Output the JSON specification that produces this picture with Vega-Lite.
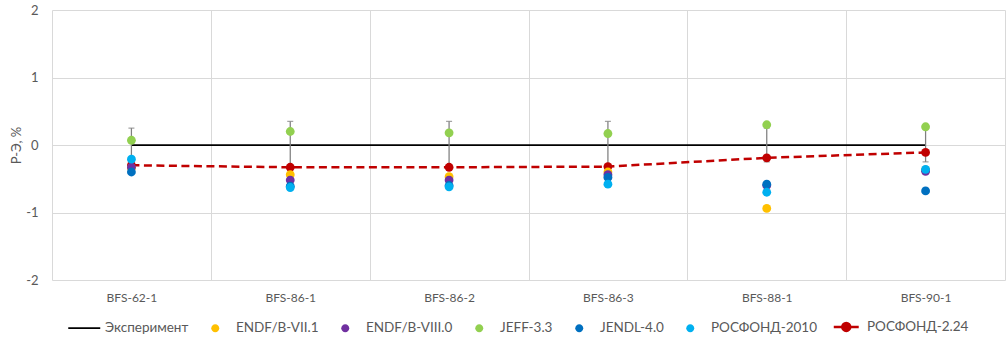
{
  "$schema": "https://vega.github.io/schema/vega-lite/v6.json",
  "width": 953,
  "height": 270,
  "autosize": "none",
  "padding": {"left": 52, "top": 10, "right": 1, "bottom": 62},
  "background": "white",
  "config": {
    "view": {"stroke": null},
    "font": "Lato",
    "axis": {"labelColor": "#595959", "titleColor": "#595959", "gridColor": "#d9d9d9", "gridWidth": 1}
  },
  "datasets": {
    "exp": [
      {"case": "BFS-62-1", "value": 0, "lo": -0.25, "hi": 0.25},
      {"case": "BFS-86-1", "value": 0, "lo": -0.35, "hi": 0.35},
      {"case": "BFS-86-2", "value": 0, "lo": -0.35, "hi": 0.35},
      {"case": "BFS-86-3", "value": 0, "lo": -0.35, "hi": 0.35},
      {"case": "BFS-88-1", "value": 0, "lo": -0.25, "hi": 0.25},
      {"case": "BFS-90-1", "value": 0, "lo": -0.25, "hi": 0.25}
    ],
    "calc": [
      {"case": "BFS-62-1", "lib": "РОСФОНД-2.24", "value": -0.30},
      {"case": "BFS-86-1", "lib": "РОСФОНД-2.24", "value": -0.33},
      {"case": "BFS-86-2", "lib": "РОСФОНД-2.24", "value": -0.33},
      {"case": "BFS-86-3", "lib": "РОСФОНД-2.24", "value": -0.32},
      {"case": "BFS-88-1", "lib": "РОСФОНД-2.24", "value": -0.19},
      {"case": "BFS-90-1", "lib": "РОСФОНД-2.24", "value": -0.11},
      {"case": "BFS-62-1", "lib": "ENDF/B-VII.1", "value": -0.34},
      {"case": "BFS-86-1", "lib": "ENDF/B-VII.1", "value": -0.44},
      {"case": "BFS-86-2", "lib": "ENDF/B-VII.1", "value": -0.47},
      {"case": "BFS-86-3", "lib": "ENDF/B-VII.1", "value": -0.40},
      {"case": "BFS-88-1", "lib": "ENDF/B-VII.1", "value": -0.94},
      {"case": "BFS-90-1", "lib": "ENDF/B-VII.1", "value": -0.37},
      {"case": "BFS-62-1", "lib": "ENDF/B-VIII.0", "value": -0.33},
      {"case": "BFS-86-1", "lib": "ENDF/B-VIII.0", "value": -0.52},
      {"case": "BFS-86-2", "lib": "ENDF/B-VIII.0", "value": -0.52},
      {"case": "BFS-86-3", "lib": "ENDF/B-VIII.0", "value": -0.44},
      {"case": "BFS-88-1", "lib": "ENDF/B-VIII.0", "value": -0.60},
      {"case": "BFS-90-1", "lib": "ENDF/B-VIII.0", "value": -0.39},
      {"case": "BFS-62-1", "lib": "JEFF-3.3", "value": 0.07},
      {"case": "BFS-86-1", "lib": "JEFF-3.3", "value": 0.20},
      {"case": "BFS-86-2", "lib": "JEFF-3.3", "value": 0.18},
      {"case": "BFS-86-3", "lib": "JEFF-3.3", "value": 0.17},
      {"case": "BFS-88-1", "lib": "JEFF-3.3", "value": 0.30},
      {"case": "BFS-90-1", "lib": "JEFF-3.3", "value": 0.27},
      {"case": "BFS-62-1", "lib": "JENDL-4.0", "value": -0.40},
      {"case": "BFS-86-1", "lib": "JENDL-4.0", "value": -0.61},
      {"case": "BFS-86-2", "lib": "JENDL-4.0", "value": -0.60},
      {"case": "BFS-86-3", "lib": "JENDL-4.0", "value": -0.48},
      {"case": "BFS-88-1", "lib": "JENDL-4.0", "value": -0.58},
      {"case": "BFS-90-1", "lib": "JENDL-4.0", "value": -0.68},
      {"case": "BFS-62-1", "lib": "РОСФОНД-2010", "value": -0.21},
      {"case": "BFS-86-1", "lib": "РОСФОНД-2010", "value": -0.63},
      {"case": "BFS-86-2", "lib": "РОСФОНД-2010", "value": -0.62},
      {"case": "BFS-86-3", "lib": "РОСФОНД-2010", "value": -0.58},
      {"case": "BFS-88-1", "lib": "РОСФОНД-2010", "value": -0.70},
      {"case": "BFS-90-1", "lib": "РОСФОНД-2010", "value": -0.36}
    ]
  },
  "layer": [
    {
      "data": {"name": "exp"},
      "mark": {"type": "line", "strokeWidth": 1.75},
      "encoding": {
        "x": {
          "field": "case", "type": "nominal", "title": null,
          "scale": {"type": "band", "paddingInner": 0, "paddingOuter": 0,
                    "domain": ["BFS-62-1", "BFS-86-1", "BFS-86-2", "BFS-86-3", "BFS-88-1", "BFS-90-1"]},
          "axis": {"grid": true, "tickBand": "extent", "ticks": false, "domain": false,
                   "labelPadding": 12, "labelFontSize": 12, "labelAngle": 0}
        },
        "y": {
          "field": "value", "type": "quantitative",
          "scale": {"domain": [-2, 2], "nice": false},
          "axis": {"values": [-2, -1, 0, 1, 2], "labelExpr": "'' + datum.value", "grid": true, "domain": false, "ticks": false,
                   "labelPadding": 14, "labelFontSize": 13, "title": "Р-Э, %",
                   "titleFontSize": 13, "titleFontWeight": "normal", "titlePadding": 2}
        },
        "color": {
          "datum": "Эксперимент",
          "scale": {
            "domain": ["Эксперимент", "ENDF/B-VII.1", "ENDF/B-VIII.0", "JEFF-3.3", "JENDL-4.0", "РОСФОНД-2010", "РОСФОНД-2.24"],
            "range": ["#000000", "#FFC000", "#7030A0", "#92D050", "#0070C0", "#00B0F0", "#C00000"]
          }
        }
      }
    },
    {
      "data": {"name": "exp"},
      "mark": {"type": "rule", "color": "#7f7f7f", "strokeWidth": 1.25},
      "encoding": {
        "x": {"field": "case", "type": "nominal"},
        "y": {"field": "lo", "type": "quantitative"},
        "y2": {"field": "hi"}
      }
    },
    {
      "data": {"name": "exp"},
      "mark": {"type": "tick", "color": "#7f7f7f", "size": 6, "thickness": 1.25, "orient": "horizontal"},
      "encoding": {
        "x": {"field": "case", "type": "nominal"},
        "y": {"field": "hi", "type": "quantitative"}
      }
    },
    {
      "data": {"name": "exp"},
      "mark": {"type": "tick", "color": "#7f7f7f", "size": 6, "thickness": 1.25, "orient": "horizontal"},
      "encoding": {
        "x": {"field": "case", "type": "nominal"},
        "y": {"field": "lo", "type": "quantitative"}
      }
    },
    {
      "data": {"name": "calc"},
      "transform": [{"filter": "datum.lib === 'РОСФОНД-2.24'"}],
      "mark": {"type": "line", "strokeWidth": 2.5, "strokeDash": [8, 4.5]},
      "encoding": {
        "x": {"field": "case", "type": "nominal"},
        "y": {"field": "value", "type": "quantitative"},
        "color": {"field": "lib", "type": "nominal"}
      }
    },
    {
      "data": {"name": "calc"},
      "mark": {"type": "point", "filled": true, "opacity": 1, "size": 78, "shape": "circle"},
      "encoding": {
        "x": {"field": "case", "type": "nominal"},
        "y": {"field": "value", "type": "quantitative"},
        "color": {
          "field": "lib", "type": "nominal",
          "legend": {
            "orient": "none",
            "direction": "horizontal",
            "legendX": 16,
            "legendY": 310,
            "title": null,
            "padding": 0,
            "labelFontSize": 13.5,
            "labelColor": "#595959",
            "symbolOffset": 9.5,
            "labelOffset": 14,
            "columnPadding": 10,
            "symbolOpacity": 1,
            "encode": {
              "symbols": {
                "update": {
                  "size": {"value": 1024},
                  "shape": {"signal": "datum.value === 'Эксперимент' ? 'stroke' : (datum.value === 'РОСФОНД-2.24' ? 'M-0.78,0H-0.25M0.25,0H0.78M0.25,0A0.25,0.25 0 1 1 -0.25,0A0.25,0.25 0 1 1 0.25,0Z' : 'M0.25,0A0.25,0.25 0 1 1 -0.25,0A0.25,0.25 0 1 1 0.25,0Z')"},
                  "stroke": {"scale": "color", "field": "value"},
                  "fill": {"scale": "color", "field": "value"},
                  "strokeWidth": {"signal": "datum.value === 'Эксперимент' ? 1.75 : (datum.value === 'РОСФОНД-2.24' ? 2.5 : 0)"}
                }
              }
            }
          }
        }
      }
    }
  ]
}
